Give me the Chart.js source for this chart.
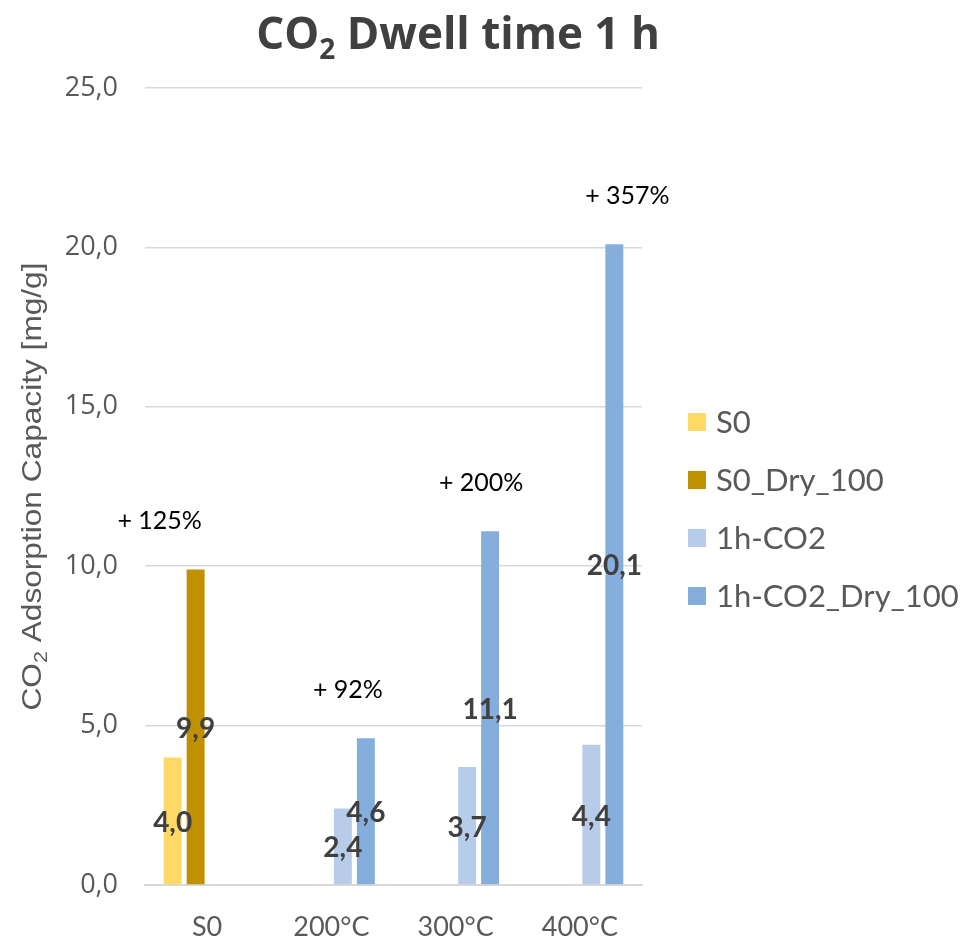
<!DOCTYPE html>
<html>
<head>
<meta charset="utf-8">
<script src="https://cdn.jsdelivr.net/npm/chart.js@4.4.0/dist/chart.umd.min.js"></script>
<style>
	html, body { margin: 0; padding: 0; background: #ffffff; }
	#wrap { width: 960px; height: 943px; }
</style>
</head>
<body>
<div id="wrap"><canvas id="dwellChart" width="960" height="943"></canvas></div>
<script>
// data
const categories = ["S0", "200°C", "300°C", "400°C"];
const seriesNames = ["S0", "S0_Dry_100", "1h-CO2", "1h-CO2_Dry_100"];
const s0Values = [4.0, null, null, null];
const s0DryValues = [9.9, null, null, null];
const co2Values = [null, 2.4, 3.7, 4.4];
const co2DryValues = [null, 4.6, 11.1, 20.1];
const increaseLabels = ["+ 125%", "+ 92%", "+ 200%", "+ 357%"];
const yTicks = [0, 5, 10, 15, 20, 25];

const seriesColors = ["#FFD966", "#BF9000", "#B7CCE8", "#85AEDC"];
// where the "+ xx%" notes sit relative to the dry bar (px)
const noteShiftX = [-36, -18, -9, 13];
const noteLift = 48;

const fmt = v => v.toFixed(1).replace(".", ",");

// draw text pieces (some as subscript) one after the other
function drawParts(ctx, parts, x, y, fitWidth) {
	let total = 0;
	parts.forEach(p => {
		ctx.font = p[1];
		total += ctx.measureText(p[0]).width;
	});
	const sx = fitWidth ? fitWidth / total : 1;
	ctx.save();
	ctx.translate(x, y);
	ctx.scale(sx, 1);
	let cx = -total / 2;
	parts.forEach(p => {
		ctx.font = p[1];
		ctx.fillText(p[0], cx, p[2]);
		cx += ctx.measureText(p[0]).width;
	});
	ctx.restore();
}

const extrasPlugin = {
	id: "extras",
	afterDatasetsDraw(chart) {
		const ctx = chart.ctx;
		const area = chart.chartArea;
		ctx.save();

		// value labels in the middle of each bar
		ctx.fillStyle = "#404040";
		ctx.font = "bold 28px Lato";
		ctx.textAlign = "center";
		ctx.textBaseline = "middle";
		chart.data.datasets.forEach((ds, di) => {
			const meta = chart.getDatasetMeta(di);
			meta.data.forEach((bar, i) => {
				const v = ds.data[i];
				if (v === null || v === undefined) return;
				ctx.fillText(fmt(v), bar.x, (bar.y + bar.base) / 2 + 2);
			});
		});

		// percentage notes above the dry bars
		ctx.fillStyle = "#000000";
		ctx.font = "25px Lato";
		categories.forEach((c, i) => {
			const di = s0DryValues[i] !== null ? 1 : 3;
			const bar = chart.getDatasetMeta(di).data[i];
			ctx.fillText(increaseLabels[i], bar.x + noteShiftX[i], bar.y - noteLift);
		});

		// title with subscript
		ctx.fillStyle = "#404040";
		ctx.textAlign = "left";
		ctx.textBaseline = "alphabetic";
		drawParts(ctx, [
			["CO", "bold 44px 'Open Sans'", 0],
			["2", "bold 28px 'Open Sans'", 10],
			[" Dwell time 1 h", "bold 44px 'Open Sans'", 0]
		], 458, 49, 0);

		// y axis title, rotated
		ctx.save();
		ctx.translate(41, (area.top + area.bottom) / 2);
		ctx.rotate(-Math.PI / 2);
		ctx.fillStyle = "#595959";
		drawParts(ctx, [
			["CO", "28px 'Liberation Sans'", 0],
			["2", "19px 'Liberation Sans'", 6],
			[" Adsorption Capacity [mg/g]", "28px 'Liberation Sans'", 0]
		], 0, 0, 448);
		ctx.restore();

		// legend on the right
		ctx.font = "31px Lato";
		ctx.textBaseline = "middle";
		ctx.textAlign = "left";
		seriesNames.forEach((name, i) => {
			const y = 422 + i * 58;
			ctx.fillStyle = seriesColors[i];
			ctx.fillRect(688, y - 9, 18, 18);
			ctx.fillStyle = "#595959";
			ctx.fillText(name, 716, y + 1);
		});

		ctx.restore();
	}
};

const ctx = document.getElementById("dwellChart").getContext("2d");
new Chart(ctx, {
	type: "bar",
	data: {
		labels: categories,
		datasets: [
			{ label: seriesNames[0], data: s0Values, backgroundColor: seriesColors[0] },
			{ label: seriesNames[1], data: s0DryValues, backgroundColor: seriesColors[1] },
			{ label: seriesNames[2], data: co2Values, backgroundColor: seriesColors[2] },
			{ label: seriesNames[3], data: co2DryValues, backgroundColor: seriesColors[3] }
		]
	},
	options: {
		responsive: false,
		animation: false,
		categoryPercentage: 0.74,
		barPercentage: 0.78,
		layout: {
			padding: { top: 88, right: 318, left: 0, bottom: 0 }
		},
		scales: {
			x: {
				grid: { display: false },
				border: { display: true, color: "#D9D9D9", width: 2 },
				ticks: {
					color: "#595959",
					font: { family: "Lato", size: 27 },
					padding: 18
				},
				afterFit(scale) { scale.height = 58; }
			},
			y: {
				min: 0,
				max: 25,
				border: { display: false },
				grid: { color: "#D9D9D9", lineWidth: 1.5, drawTicks: false },
				afterBuildTicks(scale) {
					scale.ticks = yTicks.map(v => ({ value: v }));
				},
				ticks: {
					color: "#595959",
					font: { family: "'Open Sans'", size: 27 },
					padding: 27,
					callback: v => fmt(v)
				},
				afterFit(scale) { scale.width = 145; }
			}
		},
		plugins: {
			legend: { display: false },
			tooltip: { enabled: false }
		}
	},
	plugins: [extrasPlugin]
});
</script>
</body>
</html>
